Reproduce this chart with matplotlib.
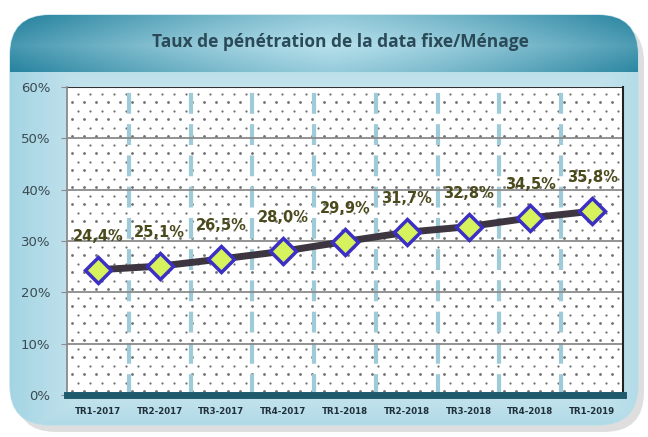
import numpy as np
import matplotlib
matplotlib.use("Agg")
import matplotlib.pyplot as plt
from matplotlib.patches import FancyBboxPatch, Rectangle
from matplotlib.colors import to_rgb

# Data
quarters = ["TR1-2017", "TR2-2017", "TR3-2017", "TR4-2017", "TR1-2018",
            "TR2-2018", "TR3-2018", "TR4-2018", "TR1-2019"]
rates = [24.4, 25.1, 26.5, 28.0, 29.9, 31.7, 32.8, 34.5, 35.8]
labels = ["24,4%", "25,1%", "26,5%", "28,0%", "29,9%", "31,7%", "32,8%", "34,5%", "35,8%"]
yticks = [0, 10, 20, 30, 40, 50, 60]

W, H = 648, 437
fig = plt.figure(figsize=(W / 100, H / 100), dpi=100)
fig.patch.set_facecolor("white")

# Background panel (pixel coordinates)
bg = fig.add_axes([0, 0, 1, 1])
bg.set_xlim(0, W)
bg.set_ylim(H, 0)
bg.axis("off")


def mix(c1, c2, t):
    c1, c2 = np.array(to_rgb(c1)), np.array(to_rgb(c2))
    return c1[None, None, :] * (1 - t[..., None]) + c2[None, None, :] * t[..., None]


# shadow
shadow = FancyBboxPatch((16, 22), 628, 410, boxstyle="round,pad=0,rounding_size=40",
                        fc="#c9c9c9", ec="none", alpha=0.6)
bg.add_patch(shadow)

panel = FancyBboxPatch((10, 15), 628, 410, boxstyle="round,pad=0,rounding_size=40",
                       fc="#d6eef5", ec="#bfe0ea", lw=1)
bg.add_patch(panel)

yy, xx = np.mgrid[0:H, 0:W]
dx = np.abs(xx - 340) / 330.0
dy = np.abs(yy - 240) / 200.0
t = np.clip(np.maximum(dx, dy) ** 2.2, 0, 1)
img = mix("#eef8fb", "#a4d4e3", t)
im = bg.imshow(img, extent=(0, W, H, 0), zorder=1)
im.set_clip_path(panel)

# title banner: top part of the panel, straight bottom edge
byy, bxx = np.mgrid[15:72, 10:638]
bx = np.abs(bxx - 330) / 320.0
by = np.abs(byy - 45) / 30.0
tb = np.clip(0.75 * bx ** 1.3 + 0.25 * by, 0, 1)
bimg = mix("#b6e0ec", "#22809c", tb)
bim = bg.imshow(bimg, extent=(10, 638, 72, 15), zorder=2)
bim.set_clip_path(panel)
bg.set_xlim(0, W)
bg.set_ylim(H, 0)
bg.text(340, 42, "Taux de pénétration de la data fixe/Ménage", ha="center", va="center",
        fontsize=12.5, color="#2b4a57", fontweight="bold", family="Open Sans", zorder=3)

# Plot area
ax = fig.add_axes([67 / W, 1 - 395 / H, (623 - 67) / W, (395 - 87) / H])
ax.set_facecolor("white")
x = np.arange(len(quarters))
ax.set_xlim(-0.5, len(quarters) - 0.5)
ax.set_ylim(0, 60)

# dotted background pattern
px_x = len(quarters) / 556.0
px_y = 60 / 308.0
for k, yd in enumerate(np.arange(4, 308, 8.5)):
    off = 6 if k % 2 else 0
    xd = np.arange(5 + off, 556, 12)
    ax.plot(-0.5 + xd * px_x, np.full(xd.shape, yd * px_y), ls="none", marker="o",
            ms=1.6 if k % 2 else 2.0, mfc="#6f6f6f", mec="none", zorder=0)

for b in np.arange(0.5, len(quarters) - 0.5, 1):
    ax.axvline(b, color="#9fcbd8", lw=3, ls=(0, (5, 2.5)), zorder=1)
for v in yticks[1:-1]:
    ax.axhline(v, color="#8a8a8a", lw=1.3, zorder=1)
ax.axhline(60, color="#333333", lw=1.5, zorder=1)

ax.plot(x, rates, color="#3d3640", lw=5, zorder=3, solid_capstyle="round")
ax.plot(x, rates, ls="none", marker="D", ms=13.5, mfc="#d6f25c", mec="#3b2fc4", mew=2.5, zorder=4)
for xi, yi, lab in zip(x, rates, labels):
    ax.annotate(lab, (xi, yi), xytext=(0, 24), textcoords="offset points", ha="center",
                va="center", fontsize=10.5, fontweight="bold", color="#4b4a1c", zorder=5)

ax.set_yticks(yticks)
ax.set_yticklabels([f"{v}%" for v in yticks], fontsize=9.5, color="#3b4a52")
ax.set_xticks(x)
ax.set_xticklabels(quarters, fontsize=6.2, fontweight="bold", color="#1f2f3a")
ax.tick_params(axis="y", length=4, color="#8a8a8a", pad=8)
ax.tick_params(axis="x", length=0, pad=9)

ax.spines["left"].set_color("#8a8a8a")
ax.spines["left"].set_linewidth(1.3)
ax.spines["right"].set_color("#222222")
ax.spines["right"].set_linewidth(1.5)
ax.spines["top"].set_visible(False)
ax.spines["bottom"].set_color("#1f5a6c")
ax.spines["bottom"].set_linewidth(5)

fig.savefig("out.png", dpi=100)
